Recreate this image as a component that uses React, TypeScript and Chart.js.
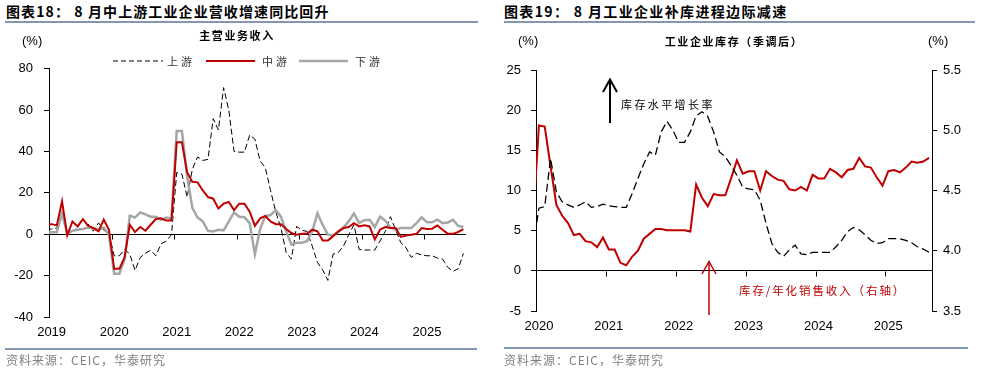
import React, { useEffect, useRef } from 'react';
import { Chart, registerables } from 'chart.js';
Chart.register(...registerables);

const CJK = '"Noto Sans CJK SC", "Noto Sans", sans-serif';
const LAT = '"Liberation Sans", Arial, sans-serif';
Chart.defaults.font.family = LAT;

// ---------- Left chart: 主营业务收入 (%, yoy), monthly 2018-12 … 2025-08 ----------
const leftStartYear = 2018;
const leftStartMonth = 12;
const upstream = [
  2.5,
  2.5, 3.0, 10.5, 0.0, 1.5, 3.0, 2.5, 5.0, 1.5, 5.5, 2.0, 0.5,
  -10.4, -10.4, -7.3, -9.6, -17.5, -11.2, -9.2, -7.7, -10.4, -4.6, -3.3, -0.2,
  29.9, 29.1, 18.0, 31.4, 37.4, 35.7, 36.2, 55.9, 50.4, 70.9, 59.9, 40.1,
  39.7, 39.7, 48.0, 46.0, 35.4, 32.2, 21.2, 10.9, 3.0, -8.8, -12.0, 3.8,
  1.9, 1.4, -5.7, -13.6, -17.2, -22.3, -9.6, -8.8, -5.7, -0.2, 4.6, -7.3,
  -7.6, -7.6, -7.6, -3.3, 1.4, 8.5, 2.2, -4.1, -6.5, -11.2, -9.2, -10.0,
  -10.4, -10.4, -11.5, -12.0, -16.0, -17.9, -16.7, -9.3,
];
const midstream = [
  4.9,
  4.9, 4.3, 16.0, -0.5, 6.2, 3.8, 7.3, 4.1, 3.0, 1.4, 7.1, 2.2,
  -16.7, -16.7, -11.2, 4.6, 1.1, 3.5, 1.7, 4.6, 7.4, 7.7, 6.6, 6.6,
  44.5, 44.5, 29.9, 25.4, 25.1, 21.2, 18.0, 17.2, 12.5, 14.8, 15.6, 11.7,
  14.8, 14.8, 10.9, 4.1, 7.7, 8.8, 6.2, 4.9, 4.9, 2.5, 0.6, -0.2,
  0.2, 0.2, 2.2, 1.4, -3.0, -3.0, -0.9, 1.4, 3.0, 3.5, 5.4, 3.8,
  4.3, 3.8, -2.5, 2.2, 3.5, 3.0, 3.0, -1.3, -0.6, -0.2, 0.2, 3.0,
  2.5, 2.7, 4.3, 2.2, 0.3, 0.2, 1.1, 2.5,
];
const downstream = [
  1.0,
  1.0, 1.0, 10.1, 0.2, 1.7, 2.2, 2.5, 3.3, 3.0, 2.2, 3.3, -0.2,
  -19.1, -19.1, -12.0, 9.0, 8.1, 10.6, 9.6, 8.5, 8.5, 7.0, 8.1, 7.4,
  49.9, 49.9, 28.0, 12.8, 8.1, 6.2, 1.7, 1.4, 2.2, 1.9, 6.2, 10.6,
  8.5, 8.2, 5.4, -9.6, 2.5, 8.8, 9.3, 11.7, 8.5, 1.4, -4.9, -4.1,
  -4.1, -3.3, 1.4, 10.1, 4.6, -0.2, -0.5, 1.1, 3.3, 6.2, 10.1, 5.4,
  6.8, 7.0, 3.5, 8.5, 6.6, 3.3, 2.2, 3.0, 3.0, 3.0, 5.4, 8.2,
  5.8, 5.8, 7.1, 5.4, 5.7, 7.0, 4.1, 3.5,
];
const leftYearLabels = ['2019', '2020', '2021', '2022', '2023', '2024', '2025'];
const leftYearBounds = [0, 12, 24, 36, 48, 60, 72];
const leftSeriesNames = ['上游', '中游', '下游'];

// ---------- Right chart: 工业企业库存（季调后）, monthly 2019-12 … 2025-08 ----------
const rightStartYear = 2019;
const rightStartMonth = 12;
const invGrowth = [
  3.0,
  7.8, 8.0, 14.0, 9.8, 8.6, 8.2, 7.9, 8.2, 8.6, 7.9, 8.0, 8.3,
  8.1, 8.0, 7.9, 7.9, 9.6, 11.5, 13.3, 14.8, 14.4, 17.3, 18.6, 17.5,
  16.0, 16.0, 17.3, 19.3, 19.8, 19.2, 17.3, 14.8, 14.2, 13.1, 11.9, 10.4,
  10.2, 10.1, 8.8, 5.9, 3.4, 2.3, 1.8, 2.6, 3.2, 2.1, 2.0, 2.3,
  2.3, 2.3, 2.3, 3.0, 3.8, 4.9, 5.4, 5.1, 4.5, 3.8, 3.4, 3.5,
  4.0, 4.0, 4.0, 3.8, 3.5, 3.0, 2.7, 2.3,
];
const invToSales = [
  4.25,
  5.04, 5.03, 4.70, 4.38, 4.29, 4.23, 4.13, 4.14, 4.08, 4.07, 4.03, 4.11,
  4.01, 4.01, 3.90, 3.88, 3.95, 4.00, 4.10, 4.14, 4.18, 4.18, 4.17, 4.17,
  4.17, 4.17, 4.16, 4.55, 4.44, 4.37, 4.47, 4.46, 4.46, 4.60, 4.75, 4.64,
  4.66, 4.66, 4.50, 4.66, 4.62, 4.59, 4.58, 4.51, 4.50, 4.53, 4.50, 4.63,
  4.60, 4.60, 4.68, 4.65, 4.61, 4.67, 4.68, 4.77, 4.70, 4.69, 4.61, 4.54,
  4.66, 4.67, 4.65, 4.69, 4.74, 4.73, 4.74, 4.77,
];
const rightYearLabels = ['2020', '2021', '2022', '2023', '2024', '2025'];
const rightYearBounds = [0, 12, 24, 36, 48, 60];
const rightSeriesNames = ['库存水平增长率', '库存/年化销售收入（右轴）'];

// month labels (categories) for each series
function monthLabels(y0: number, m0: number, n: number) {
  const out: string[] = [];
  for (let k = 0; k < n; k++) {
    const t = y0 * 12 + (m0 - 1) + k;
    out.push(`${Math.floor(t / 12)}-${String((t % 12) + 1).padStart(2, '0')}`);
  }
  return out;
}
const leftMonths = monthLabels(leftStartYear, leftStartMonth, upstream.length);
const rightMonths = monthLabels(rightStartYear, rightStartMonth, invGrowth.length);

// the first element is the month before the axis start; points sit at category centres
const toPoints = (vals: number[]) => vals.map((v, k) => ({ x: k - 0.5, y: v }));

const yearTickMarks = {
  id: 'yearTickMarks',
  afterDraw(chart: any, _args: any, opts: any) {
    const xs = chart.scales.x;
    const ys = chart.scales[opts.yId || 'y'];
    const y0 = Math.round(ys.getPixelForValue(0)) + 0.5;
    const ctx = chart.ctx;
    ctx.save();
    ctx.strokeStyle = '#000';
    ctx.lineWidth = 1;
    (opts.bounds || []).forEach((v: number) => {
      const px = Math.round(xs.getPixelForValue(v)) + 0.5;
      ctx.beginPath();
      ctx.moveTo(px, y0);
      ctx.lineTo(px, y0 + 5);
      ctx.stroke();
    });
    ctx.restore();
  },
};

function LeftChart() {
  const ref = useRef<HTMLCanvasElement>(null);
  useEffect(() => {
    const chart = new Chart(ref.current!, {
      type: 'line',
      data: {
        labels: leftMonths,
        datasets: [
          { label: leftSeriesNames[0], data: toPoints(upstream), borderColor: '#000', borderWidth: 1, borderDash: [6, 3], pointRadius: 0, tension: 0, order: 3 },
          { label: leftSeriesNames[2], data: toPoints(downstream), borderColor: '#A6A6A6', borderWidth: 2.5, pointRadius: 0, tension: 0, order: 2 },
          { label: leftSeriesNames[1], data: toPoints(midstream), borderColor: '#C00000', borderWidth: 2, pointRadius: 0, tension: 0, order: 1 },
        ],
      },
      options: {
        animation: false,
        responsive: false,
        maintainAspectRatio: false,
        layout: { padding: { top: 14, right: 24, left: 0, bottom: 0 } },
        plugins: { legend: { display: false }, tooltip: { enabled: false }, yearTickMarks: { bounds: leftYearBounds } } as any,
        scales: {
          x: {
            type: 'linear',
            min: 0,
            max: 80,
            grid: { display: false, drawTicks: false },
            border: { display: false },
            afterBuildTicks: (s: any) => { s.ticks = leftYearBounds.map((b) => ({ value: b + 0.5 })); },
            afterFit: (s: any) => { s.height = 33; },
            ticks: {
              callback: (_v: any, i: number) => leftYearLabels[i],
              font: { size: 13 }, color: '#000', padding: 8, maxRotation: 0, autoSkip: false,
            },
          },
          y: {
            min: -40,
            max: 80,
            afterFit: (s: any) => { s.width = 49; },
            ticks: { stepSize: 20, font: { size: 13 }, color: '#000', padding: 11 },
            grid: {
              color: (c: any) => (c.tick && c.tick.value === 0 ? '#000' : 'rgba(0,0,0,0)'),
              tickColor: '#000', tickLength: 5, lineWidth: 1,
            },
            border: { color: '#000', width: 1 },
          },
        },
      },
      plugins: [yearTickMarks],
    });
    return () => chart.destroy();
  }, []);
  return <canvas ref={ref} width={490} height={300} style={{ position: 'absolute', left: 0, top: 50, width: 490, height: 300 }} />;
}

function RightChart() {
  const ref = useRef<HTMLCanvasElement>(null);
  useEffect(() => {
    const chart = new Chart(ref.current!, {
      type: 'line',
      data: {
        labels: rightMonths,
        datasets: [
          { label: rightSeriesNames[0], data: toPoints(invGrowth), yAxisID: 'y', borderColor: '#000', borderWidth: 1.3, borderDash: [8, 4], pointRadius: 0, tension: 0 },
          { label: rightSeriesNames[1], data: toPoints(invToSales), yAxisID: 'y1', borderColor: '#C00000', borderWidth: 2, pointRadius: 0, tension: 0 },
        ],
      },
      options: {
        animation: false,
        responsive: false,
        maintainAspectRatio: false,
        layout: { padding: { top: 20, right: 0, left: 0, bottom: 0 } },
        plugins: { legend: { display: false }, tooltip: { enabled: false }, yearTickMarks: { bounds: rightYearBounds, yId: 'y' } } as any,
        scales: {
          x: {
            type: 'linear',
            min: 0,
            max: 68,
            grid: { display: false, drawTicks: false },
            border: { display: false },
            afterBuildTicks: (s: any) => { s.ticks = rightYearBounds.map((b) => ({ value: b + 0.5 })); },
            afterFit: (s: any) => { s.height = 39; },
            ticks: {
              callback: (_v: any, i: number) => rightYearLabels[i],
              font: { size: 13 }, color: '#000', padding: 8, maxRotation: 0, autoSkip: false,
            },
          },
          y: {
            position: 'left',
            min: -5,
            max: 25,
            afterFit: (s: any) => { s.width = 40; },
            ticks: { stepSize: 5, font: { size: 13 }, color: '#000', padding: 10 },
            grid: {
              color: (c: any) => (c.tick && c.tick.value === 0 ? '#000' : 'rgba(0,0,0,0)'),
              tickColor: '#000', tickLength: 5, lineWidth: 1,
            },
            border: { color: '#000', width: 1 },
          },
          y1: {
            position: 'right',
            min: 3.5,
            max: 5.5,
            afterFit: (s: any) => { s.width = 60; },
            ticks: { stepSize: 0.5, font: { size: 13 }, color: '#000', padding: 6, callback: (v: any) => Number(v).toFixed(1) },
            grid: { drawOnChartArea: false, tickColor: '#000', tickLength: 5 },
            border: { color: '#000', width: 1 },
          },
        },
      },
      plugins: [yearTickMarks],
    });
    return () => chart.destroy();
  }, []);
  return <canvas ref={ref} width={496} height={300} style={{ position: 'absolute', left: 496, top: 50, width: 496, height: 300 }} />;
}

function T(props: { x: number; y: number; center?: boolean; style?: React.CSSProperties; children: React.ReactNode }) {
  const { x, y, center, style, children } = props;
  return (
    <div
      style={{
        position: 'absolute', left: x, top: y - 10, height: 20, lineHeight: '20px', whiteSpace: 'nowrap',
        transform: center ? 'translateX(-50%)' : undefined, ...style,
      }}
    >
      {children}
    </div>
  );
}

const RULE = '#8497B0';

export default function App() {
  const title: React.CSSProperties = { fontFamily: CJK, fontWeight: 700, fontSize: 14, color: '#000' };
  const sub: React.CSSProperties = { fontFamily: CJK, fontWeight: 700, fontSize: 11, color: '#000', letterSpacing: 1.6 };
  const pct: React.CSSProperties = { fontFamily: LAT, fontSize: 13, color: '#000' };
  const leg: React.CSSProperties = { fontFamily: CJK, fontSize: 11, color: '#333', letterSpacing: 3 };
  const foot: React.CSSProperties = { fontFamily: CJK, fontSize: 12, color: '#808080', letterSpacing: 1 };
  return (
    <div style={{ position: 'absolute', left: 0, top: 0, width: 992, height: 372, background: '#fff', overflow: 'hidden' }}>
      <LeftChart />
      <RightChart />

      {/* left panel texts */}
      <T x={6} y={11} style={{ ...title, letterSpacing: 1.1 }}>图表18： 8 月中上游工业企业营收增速同比回升</T>
      <div style={{ position: 'absolute', left: 5, top: 21, width: 473, height: 2, background: RULE }} />
      <T x={22} y={41} style={pct}>(%)</T>
      <T x={237} y={35} center style={sub}>主营业务收入</T>
      <T x={167} y={61} style={leg}>{leftSeriesNames[0]}</T>
      <T x={262} y={61} style={leg}>{leftSeriesNames[1]}</T>
      <T x={355} y={61} style={leg}>{leftSeriesNames[2]}</T>
      <div style={{ position: 'absolute', left: 5, top: 348, width: 472, height: 2, background: RULE }} />
      <T x={6} y={360} style={foot}>资料来源：CEIC，华泰研究</T>

      {/* right panel texts */}
      <T x={504} y={11} style={{ ...title, letterSpacing: 1.35 }}>图表19： 8 月工业企业补库进程边际减速</T>
      <div style={{ position: 'absolute', left: 504, top: 21, width: 471, height: 2, background: RULE }} />
      <T x={518} y={41} style={pct}>(%)</T>
      <T x={928} y={41} style={pct}>(%)</T>
      <T x={734} y={41} center style={sub}>工业企业库存（季调后）</T>
      <T x={621} y={104} style={{ fontFamily: CJK, fontSize: 11, color: '#000', letterSpacing: 2.4 }}>{rightSeriesNames[0]}</T>
      <T x={739} y={290} style={{ fontFamily: CJK, fontSize: 11.5, color: '#C00000', letterSpacing: 1.9 }}>{rightSeriesNames[1]}</T>
      <div style={{ position: 'absolute', left: 504, top: 347, width: 464, height: 2, background: RULE }} />
      <T x={504} y={360} style={foot}>资料来源：CEIC，华泰研究</T>

      <svg width={992} height={372} style={{ position: 'absolute', left: 0, top: 0, pointerEvents: 'none' }}>
        {/* legend keys */}
        <line x1={113} y1={61} x2={163} y2={61} stroke="#000" strokeWidth={1} strokeDasharray="5 3" />
        <line x1={206} y1={61} x2={255} y2={61} stroke="#C00000" strokeWidth={2} />
        <line x1={299} y1={61} x2={348} y2={61} stroke="#A6A6A6" strokeWidth={2.5} />
        {/* arrows */}
        <line x1={610} y1={123} x2={610} y2={80} stroke="#000" strokeWidth={2} />
        <polyline points="603,92 610,79.5 617,92" fill="none" stroke="#000" strokeWidth={2} />
        <line x1={709} y1={315} x2={709} y2={262} stroke="#C00000" strokeWidth={1.5} />
        <polyline points="702,274 709,261.5 716,274" fill="none" stroke="#C00000" strokeWidth={1.5} />
      </svg>
    </div>
  );
}
